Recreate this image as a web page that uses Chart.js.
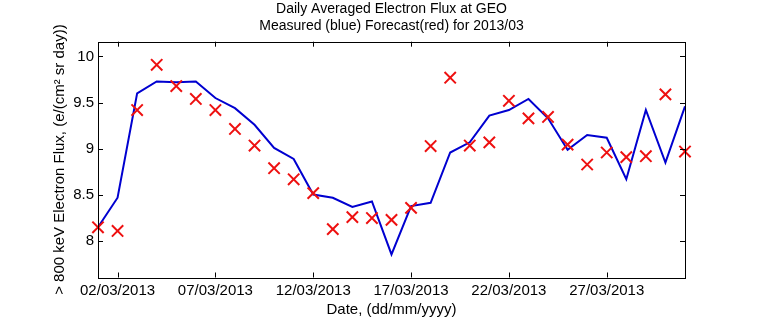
<!DOCTYPE html>
<html>
<head>
<meta charset="utf-8">
<title>Daily Averaged Electron Flux at GEO</title>
<script src="https://cdn.jsdelivr.net/npm/chart.js@4/dist/chart.umd.min.js"></script>
<style>
  html, body { margin: 0; padding: 0; background: #fff; }
  #wrap { width: 757px; height: 324px; position: relative; }
</style>
</head>
<body>
<div id="wrap"><canvas id="flux-chart"></canvas></div>
<script>
// March 2013, one value per day (log10 flux)
const DAYS = [1, 2, 3, 4, 5, 6, 7, 8, 9, 10, 11, 12, 13, 14, 15, 16,
  17, 18, 19, 20, 21, 22, 23, 24, 25, 26, 27, 28, 29, 30, 31];

const MEASURED = [8.15, 8.47, 9.60, 9.73, 9.72, 9.73, 9.55, 9.44, 9.26, 9.01,
  8.89, 8.505, 8.47, 8.37, 8.43, 7.856, 8.38, 8.415, 8.96, 9.07,
  9.36, 9.42, 9.54, 9.33, 8.99, 9.15, 9.12, 8.67, 9.42, 8.85, 9.46];

const FORECAST = [8.15, 8.11, 9.42, 9.91, 9.68, 9.54, 9.42, 9.215, 9.035, 8.79,
  8.67, 8.52, 8.13, 8.26, 8.25, 8.23, 8.36, 9.03, 9.77, 9.035,
  9.07, 9.52, 9.33, 9.345, 9.045, 8.83, 8.96, 8.91, 8.92, 9.59, 8.97];

const X_TICK_DAYS = [2, 7, 12, 17, 22, 27];
const X_TICK_LABELS = ["02/03/2013", "07/03/2013", "12/03/2013",
  "17/03/2013", "22/03/2013", "27/03/2013"];
const Y_TICKS = [8, 8.5, 9, 9.5, 10];

const Y_MIN = 7.606;
const Y_MAX = 10.16;

const FONT = '"Liberation Sans Narrow", "Liberation Sans", Arial, sans-serif';
Chart.defaults.font.family = FONT;
Chart.defaults.color = "#000";

const toPoints = (values) => DAYS.map((d, i) => ({ x: d, y: values[i] }));

// matlab-style box with inward ticks on all four sides
const boxTicks = {
  id: "boxTicks",
  afterDraw(chart) {
    const { ctx, chartArea: a, scales } = chart;
    const len = 5;
    ctx.save();
    ctx.strokeStyle = "#000";
    ctx.lineWidth = 1;
    ctx.beginPath();
    X_TICK_DAYS.forEach((d) => {
      const px = Math.round(scales.x.getPixelForValue(d)) + 0.5;
      ctx.moveTo(px, a.bottom); ctx.lineTo(px, a.bottom - len);
      ctx.moveTo(px, a.top); ctx.lineTo(px, a.top + len);
    });
    Y_TICKS.forEach((v) => {
      const py = Math.round(scales.y.getPixelForValue(v)) + 0.5;
      ctx.moveTo(a.left, py); ctx.lineTo(a.left + len, py);
      ctx.moveTo(a.right, py); ctx.lineTo(a.right - len, py);
    });
    ctx.stroke();
    ctx.strokeRect(Math.round(a.left) + 0.5, Math.round(a.top) + 0.5,
      Math.round(a.right - a.left), Math.round(a.bottom - a.top));
    ctx.restore();
  },
};

new Chart(document.getElementById("flux-chart"), {
  type: "scatter",
  data: {
    datasets: [
      {
        label: "Forecast",
        data: toPoints(FORECAST),
        showLine: false,
        pointStyle: "crossRot",
        pointRadius: 8,
        pointHoverRadius: 8,
        pointBorderWidth: 2,
        borderColor: "#ee1010",
        backgroundColor: "#ee1010",
        clip: false,
      },
      {
        label: "Measured",
        data: toPoints(MEASURED),
        showLine: true,
        borderColor: "#0000d0",
        borderWidth: 2,
        pointRadius: 0,
        tension: 0,
        clip: false,
      },
    ],
  },
  options: {
    responsive: true,
    maintainAspectRatio: false,
    animation: false,
    events: [],
    layout: { padding: { left: 0, right: 72, top: 0, bottom: 0 } },
    plugins: {
      legend: { display: false },
      tooltip: { enabled: false },
      title: {
        display: true,
        fullSize: false,
        text: ["Daily Averaged Electron Flux at GEO",
          "Measured (blue) Forecast(red) for 2013/03"],
        font: { size: 14, weight: "normal", lineHeight: 17 / 14 },
        padding: { top: 0.5, bottom: 7.2 },
        color: "#000",
      },
    },
    scales: {
      x: {
        type: "linear",
        min: 1,
        max: 31,
        grid: { display: false, drawTicks: false },
        border: { display: false },
        afterFit: (s) => { s.height = 46.5; },
        afterBuildTicks: (s) => { s.ticks = X_TICK_DAYS.map((v) => ({ value: v })); },
        ticks: {
          padding: 4,
          maxRotation: 0,
          autoSkip: false,
          font: { size: 15 },
          callback: (v, i) => X_TICK_LABELS[i],
        },
        title: {
          display: true,
          text: "Date, (dd/mm/yyyy)",
          font: { size: 15 },
          padding: { top: 0, bottom: 5 },
        },
      },
      y: {
        min: Y_MIN,
        max: Y_MAX,
        grid: { display: false, drawTicks: false },
        border: { display: false },
        afterFit: (s) => { s.width = 98; },
        afterBuildTicks: (s) => { s.ticks = Y_TICKS.map((v) => ({ value: v })); },
        ticks: {
          padding: 4,
          font: { size: 15 },
          callback: (v) => String(v),
        },
        title: {
          display: true,
          text: "> 800 keV Electron Flux, (e/(cm\u00B2 sr day))",
          font: { size: 15 },
          padding: { top: 51, bottom: 0 },
        },
      },
    },
  },
  plugins: [boxTicks],
});
</script>
</body>
</html>
